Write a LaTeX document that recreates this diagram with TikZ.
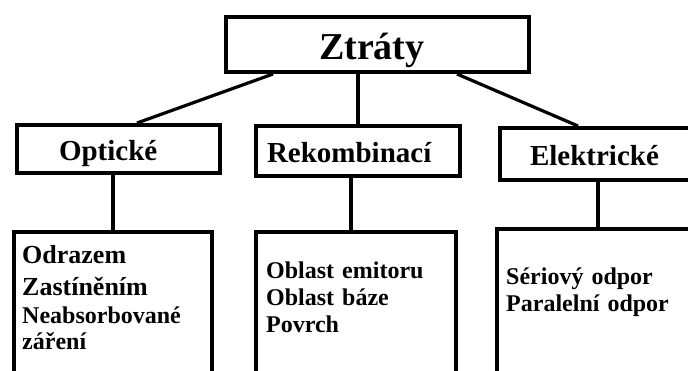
\documentclass[tikz,border=0pt]{standalone}
\usepackage{fontspec}
\setmainfont{Liberation Serif}
\usepackage{tikz}
\tikzset{
  hlavni/.style={
    rectangle,
    draw=black, line width=4pt,
    inner ysep=2pt,
    align=left,
    text height=30pt, text depth=0pt,
    anchor=north west,
    font=\fontsize{38}{38}\selectfont\bfseries},
  skupina/.style={
    rectangle,
    draw=black, line width=4pt,
    inner ysep=2pt,
    align=left,
    text height=23pt, text depth=0pt,
    anchor=north west,
    font=\fontsize{29}{29}\selectfont\bfseries},
  seznam/.style={
    rectangle,
    draw=black, line width=4pt,
    minimum height=200pt,
    anchor=north west},
  polozky/.style={
    inner sep=0pt,
    text width=180pt,
    align=left,
    anchor=north west,
    font=\fontsize{24}{27}\selectfont\bfseries},
  spoj/.style={draw, line width=3.2pt},
}

\begin{document}
\begin{tikzpicture}[x=1pt, y=-1pt]
	\useasboundingbox (0,0) rectangle (688,370);
	\clip (0,0) rectangle (688,370);

	\node[hlavni, inner xsep=93pt, text width=117pt, minimum height=55pt] (ztraty) at (224,15) {Ztráty};

	\node[skupina, inner xsep=42pt, text width=119pt, minimum height=48pt] (opticke) at (15,123) {Optické};
	\node[skupina, inner xsep=11pt, text width=182pt, minimum height=50pt] (rekomb) at (254,124) {Rekombinací};
	\node[skupina, inner xsep=30pt, text width=136pt, minimum height=52pt] (elektr) at (498,126) {Elektrické};

	\node[seznam, minimum width=198pt] (optickeS) at (12,230) {};
	\node[seznam, minimum width=200pt] (rekombS) at (254,230) {};
	\node[seznam, minimum width=202pt] (elektrS) at (495,227) {};

	\node[polozky, font=\fontsize{26}{26}\selectfont\bfseries] (optickeT) at ([shift={(10,15)}]optickeS.north west)
		{Odrazem\\[6pt]Zastíněním\\[2pt]\fontsize{24}{26}\selectfont Neabsorbované\\záření};
	\node[polozky] (rekombT) at ([shift={(12,32)}]rekombS.north west) {Oblast emitoru\\Oblast báze\\Povrch};
	\node[polozky] (elektrT) at ([shift={(11,41)}]elektrS.north west) {Sériový odpor\\Paralelní odpor};

	\draw[spoj] ([xshift=49pt]ztraty.south west) -- ([xshift=122pt]opticke.north west);
	\draw[spoj] (rekomb.north |- ztraty.south) -- (rekomb.north);
	\draw[spoj] ([xshift=233pt]ztraty.south west) -- ([xshift=80pt]elektr.north west);

	\draw[spoj] (optickeS.north |- opticke.south) -- (optickeS.north);
	\draw[spoj] ([xshift=97pt]rekombS.north west |- rekomb.south) -- ([xshift=97pt]rekombS.north west);
	\draw[spoj] (elektrS.north |- elektr.south) -- (elektrS.north);

\end{tikzpicture}
\end{document}
